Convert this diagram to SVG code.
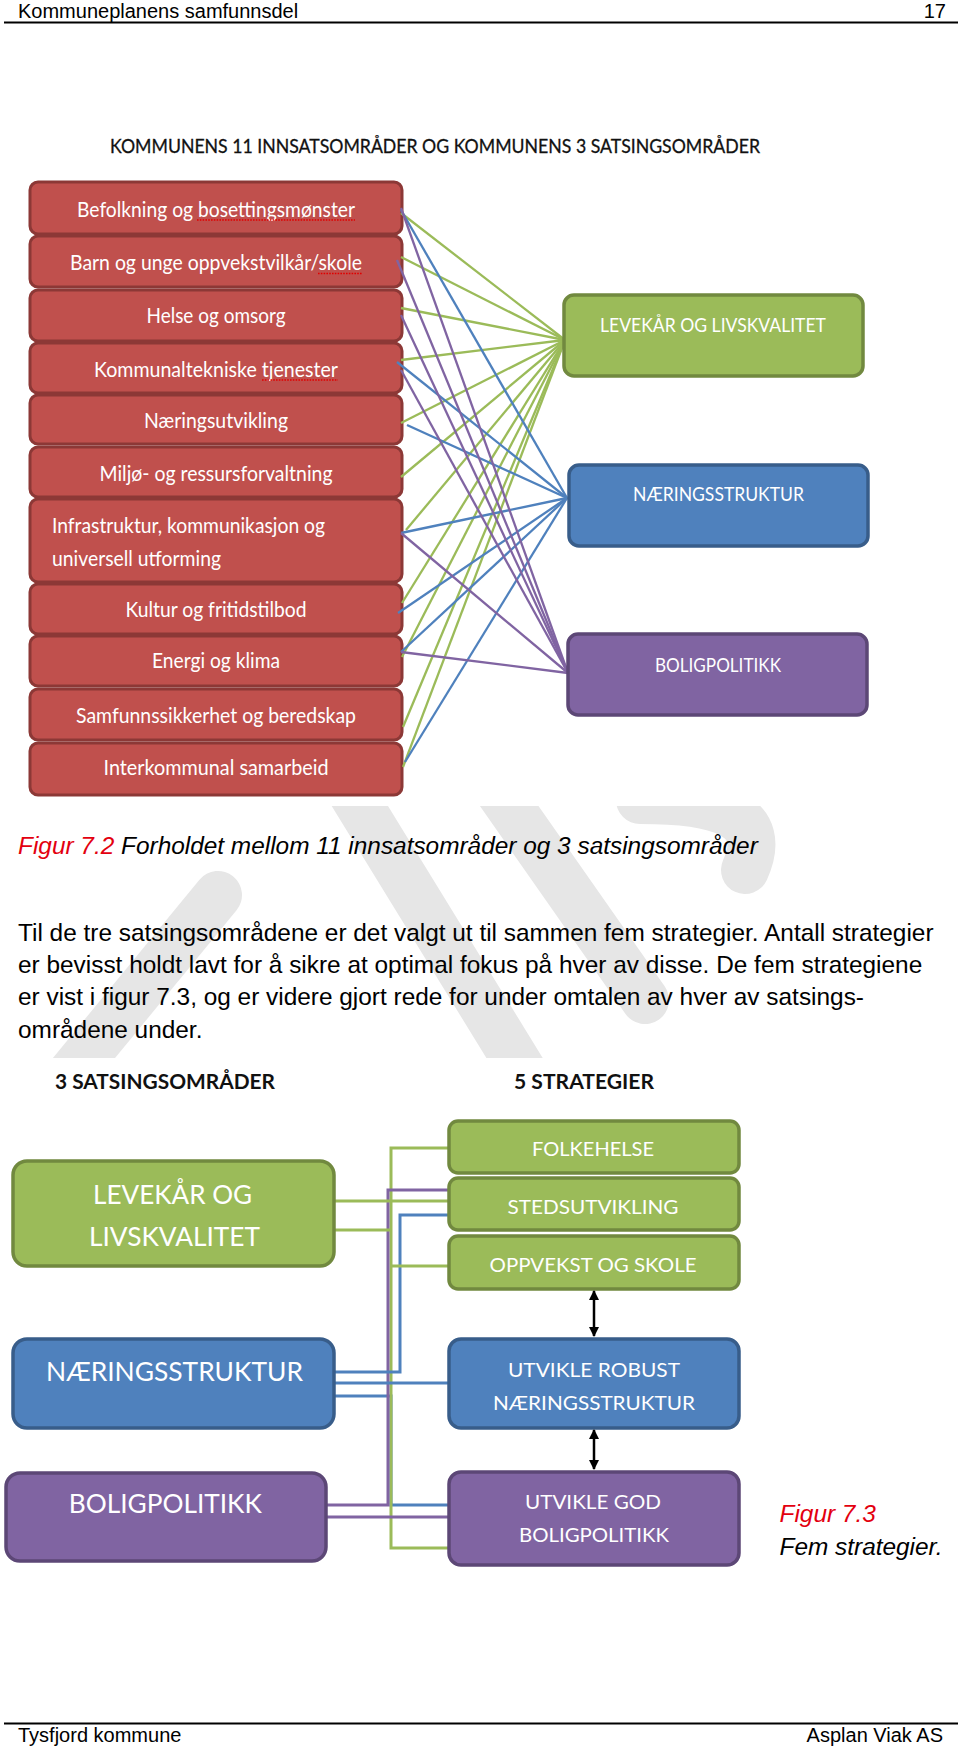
<svg xmlns="http://www.w3.org/2000/svg" width="960" height="1748" viewBox="0 0 960 1748">
<defs>
<style>
.hdr{font-family:"Liberation Sans",Arial,sans-serif;font-size:20px;fill:#000}
.body{font-family:"Liberation Sans",Arial,sans-serif;font-size:24.4px;fill:#000}
.cap{font-family:"Liberation Sans",Arial,sans-serif;font-size:24.4px;font-style:italic;fill:#000}
.capr{fill:#E3000F}
.cal{font-family:Lato,"Open Sans",sans-serif;fill:#fff}
.t21{font-size:21px}
.t20{font-size:20px}
.t26{font-size:26.5px}
.ttl{font-family:Lato,"Open Sans",sans-serif;fill:#111}
.rb{fill:#C0504D;stroke:#8C3836;stroke-width:3}
.gb{fill:#9BBB59;stroke:#71893F;stroke-width:3.5}
.bb{fill:#4F81BD;stroke:#385D8A;stroke-width:3.5}
.pb{fill:#8064A2;stroke:#5C4776;stroke-width:3.5}
.lg{stroke:#9BBB59;fill:none}
.lb{stroke:#4F81BD;fill:none}
.lp{stroke:#8064A2;fill:none}
.f1 line{stroke-width:2.3}
.f2 path{stroke-width:3;fill:none}
.sq{stroke:#E00000;stroke-width:1.3;stroke-dasharray:1.6 1.2;fill:none}
.wm{stroke:#E6E6E6;stroke-width:48;fill:none;stroke-linecap:round}
.rule{stroke:#000;stroke-width:1.8}
</style>
<clipPath id="wmclip"><rect x="0" y="806" width="960" height="252"/></clipPath>
<marker id="ah" viewBox="0 0 10 10" refX="9" refY="5" markerWidth="4" markerHeight="4.5" orient="auto-start-reverse" markerUnits="strokeWidth">
<path d="M0,0 L10,5 L0,10 z" fill="#000"/>
</marker>
</defs>

<rect x="0" y="0" width="960" height="1748" fill="#fff"/>

<!-- watermark -->
<g id="watermark" clip-path="url(#wmclip)">
<path class="wm" d="M70,1075 L218,895"/>
<path class="wm" d="M350,790 L525,1075"/>
<path class="wm" d="M498,790 L645,1000"/>
<path class="wm" d="M640,800 C720,800 770,815 745,870"/>
</g>

<!-- page header / footer -->
<g id="page-header">
<text class="hdr" x="18" y="18">Kommuneplanens samfunnsdel</text>
<text class="hdr" x="946" y="18" text-anchor="end">17</text>
<line class="rule" x1="4" y1="22.5" x2="958" y2="22.5"/>
</g>
<g id="page-footer">
<line class="rule" x1="4" y1="1723.5" x2="958" y2="1723.5"/>
<text class="hdr" x="18" y="1742">Tysfjord kommune</text>
<text class="hdr" x="943" y="1742" text-anchor="end">Asplan Viak AS</text>
</g>

<!-- Figure 7.2 -->
<text id="fig1-title" class="ttl" x="110" y="153" font-size="19.5" stroke="#111" stroke-width="0.3" textLength="650" lengthAdjust="spacingAndGlyphs">KOMMUNENS 11 INNSATSOMRÅDER OG KOMMUNENS 3 SATSINGSOMRÅDER</text>

<g id="in1"><rect class="rb" x="30" y="182" width="372" height="52" rx="8"/><text class="cal t21" x="216" y="216.5" text-anchor="middle" textLength="278" lengthAdjust="spacingAndGlyphs">Befolkning og bosettingsmønster</text><path class="sq" d="M197,220 H355"/></g>
<g id="in2"><rect class="rb" x="30" y="236" width="372" height="51" rx="8"/><text class="cal t21" x="216" y="270" text-anchor="middle" textLength="292" lengthAdjust="spacingAndGlyphs">Barn og unge oppvekstvilkår/skole</text><path class="sq" d="M318,273.5 H362"/></g>
<g id="in3"><rect class="rb" x="30" y="290" width="372" height="51" rx="8"/><text class="cal t21" x="216" y="323.3" text-anchor="middle" textLength="139" lengthAdjust="spacingAndGlyphs">Helse og omsorg</text></g>
<g id="in4"><rect class="rb" x="30" y="343" width="372" height="50" rx="8"/><text class="cal t21" x="216" y="376.7" text-anchor="middle" textLength="244" lengthAdjust="spacingAndGlyphs">Kommunaltekniske tjenester</text><path class="sq" d="M262,380 H338"/></g>
<g id="in5"><rect class="rb" x="30" y="395" width="372" height="49" rx="8"/><text class="cal t21" x="216" y="428" text-anchor="middle" textLength="144" lengthAdjust="spacingAndGlyphs">Næringsutvikling</text></g>
<g id="in6"><rect class="rb" x="30" y="447" width="372" height="50" rx="8"/><text class="cal t21" x="216" y="481" text-anchor="middle" textLength="233" lengthAdjust="spacingAndGlyphs">Miljø- og ressursforvaltning</text></g>
<g id="in7"><rect class="rb" x="30" y="499" width="372" height="83" rx="8"/><text class="cal t21" x="52" y="533.3" textLength="273" lengthAdjust="spacingAndGlyphs">Infrastruktur, kommunikasjon og</text><text class="cal t21" x="52" y="565.7" textLength="169" lengthAdjust="spacingAndGlyphs">universell utforming</text></g>
<g id="in8"><rect class="rb" x="30" y="584" width="372" height="50" rx="8"/><text class="cal t21" x="216" y="616.7" text-anchor="middle" textLength="181" lengthAdjust="spacingAndGlyphs">Kultur og fritidstilbod</text></g>
<g id="in9"><rect class="rb" x="30" y="636" width="372" height="50" rx="8"/><text class="cal t21" x="216" y="668.3" text-anchor="middle" textLength="128" lengthAdjust="spacingAndGlyphs">Energi og klima</text></g>
<g id="in10"><rect class="rb" x="30" y="689" width="372" height="51" rx="8"/><text class="cal t21" x="216" y="723.3" text-anchor="middle" textLength="280" lengthAdjust="spacingAndGlyphs">Samfunnssikkerhet og beredskap</text></g>
<g id="in11"><rect class="rb" x="30" y="743" width="372" height="52" rx="8"/><text class="cal t21" x="216" y="775" text-anchor="middle" textLength="225" lengthAdjust="spacingAndGlyphs">Interkommunal samarbeid</text></g>

<g id="fig1-connectors" class="f1">
<line class="lg" x1="401" y1="213" x2="565" y2="340"/>
<line class="lg" x1="401" y1="257" x2="565" y2="340"/>
<line class="lg" x1="401" y1="308" x2="565" y2="340"/>
<line class="lg" x1="401" y1="360" x2="565" y2="340"/>
<line class="lg" x1="401" y1="423" x2="565" y2="340"/>
<line class="lg" x1="401" y1="477" x2="565" y2="340"/>
<line class="lg" x1="406" y1="530" x2="565" y2="340"/>
<line class="lg" x1="402" y1="603" x2="565" y2="340"/>
<line class="lg" x1="402" y1="657" x2="565" y2="340"/>
<line class="lg" x1="403" y1="727" x2="565" y2="340"/>
<line class="lg" x1="403" y1="767" x2="565" y2="340"/>
<line class="lb" x1="401" y1="210" x2="567" y2="498"/>
<line class="lb" x1="397" y1="362" x2="567" y2="498"/>
<line class="lb" x1="407" y1="425" x2="567" y2="498"/>
<line class="lb" x1="401" y1="533" x2="567" y2="498"/>
<line class="lb" x1="398" y1="613" x2="567" y2="498"/>
<line class="lb" x1="401" y1="652" x2="567" y2="498"/>
<line class="lb" x1="405" y1="762" x2="567" y2="498"/>
<line class="lp" x1="401" y1="208" x2="568" y2="673"/>
<line class="lp" x1="397" y1="260" x2="568" y2="673"/>
<line class="lp" x1="401" y1="315" x2="568" y2="673"/>
<line class="lp" x1="401" y1="370" x2="568" y2="673"/>
<line class="lp" x1="401" y1="533" x2="568" y2="673"/>
<line class="lp" x1="401" y1="652" x2="568" y2="673"/>
</g>

<g id="sat-levekar"><rect class="gb" x="564" y="295" width="299" height="81" rx="10"/><text class="cal t20" x="713" y="331.8" text-anchor="middle" textLength="226" lengthAdjust="spacingAndGlyphs">LEVEKÅR OG LIVSKVALITET</text></g>
<g id="sat-naering"><rect class="bb" x="569" y="465" width="299" height="81" rx="10"/><text class="cal t20" x="718.5" y="501.4" text-anchor="middle" textLength="171" lengthAdjust="spacingAndGlyphs">NÆRINGSSTRUKTUR</text></g>
<g id="sat-bolig"><rect class="pb" x="568" y="634" width="299" height="81" rx="10"/><text class="cal t20" x="718" y="672" text-anchor="middle" textLength="126" lengthAdjust="spacingAndGlyphs">BOLIGPOLITIKK</text></g>

<text id="caption-72" class="cap" x="18" y="853.5"><tspan class="capr">Figur 7.2</tspan> Forholdet mellom 11 innsatsområder og 3 satsingsområder</text>

<g id="body-text">
<text class="body" x="18" y="940.5">Til de tre satsingsområdene er det valgt ut til sammen fem strategier. Antall strategier</text>
<text class="body" x="18" y="973">er bevisst holdt lavt for å sikre at optimal fokus på hver av disse. De fem strategiene</text>
<text class="body" x="18" y="1005">er vist i figur 7.3, og er videre gjort rede for under omtalen av hver av satsings-</text>
<text class="body" x="18" y="1037.5">områdene under.</text>
</g>

<!-- Figure 7.3 -->
<text id="hdr-sat" class="ttl" x="55" y="1089" font-size="20" font-weight="700" textLength="220" lengthAdjust="spacingAndGlyphs">3 SATSINGSOMRÅDER</text>
<text id="hdr-str" class="ttl" x="514" y="1089" font-size="20" font-weight="700" textLength="140" lengthAdjust="spacingAndGlyphs">5 STRATEGIER</text>

<g id="fig2-connectors" class="f2">
<path class="lb" d="M335,1396 H391 V1505 H449"/>
<path class="lg" d="M450,1148 H391 V1548 H449"/>
<path class="lp" d="M449,1190 H388 V1505 H327"/>
<path class="lg" d="M334,1201 H449"/>
<path class="lb" d="M449,1215 H400 V1372 H335"/>
<path class="lg" d="M334,1230 H391"/>
<path class="lg" d="M449,1266 H391"/>
<path class="lb" d="M335,1383 H449"/>
<path class="lp" d="M327,1517 H449"/>
</g>

<g id="s-levekar"><rect class="gb" x="13" y="1161" width="321" height="105" rx="14"/><text class="cal t26" x="172.6" y="1204" text-anchor="middle" textLength="159" lengthAdjust="spacingAndGlyphs">LEVEKÅR OG</text><text class="cal t26" x="174.5" y="1246" text-anchor="middle" textLength="171" lengthAdjust="spacingAndGlyphs">LIVSKVALITET</text></g>
<g id="s-naering"><rect class="bb" x="13" y="1339" width="321" height="89" rx="14"/><text class="cal t26" x="174.5" y="1381" text-anchor="middle" textLength="257" lengthAdjust="spacingAndGlyphs">NÆRINGSSTRUKTUR</text></g>
<g id="s-bolig"><rect class="pb" x="6" y="1473" width="320" height="88" rx="14"/><text class="cal t26" x="165.3" y="1513" text-anchor="middle" textLength="193" lengthAdjust="spacingAndGlyphs">BOLIGPOLITIKK</text></g>

<g id="st-folkehelse"><rect class="gb" x="449" y="1121" width="290" height="52" rx="9"/><text class="cal t20" x="593" y="1156" text-anchor="middle" textLength="122" lengthAdjust="spacingAndGlyphs">FOLKEHELSE</text></g>
<g id="st-sted"><rect class="gb" x="449" y="1178" width="290" height="52" rx="9"/><text class="cal t20" x="593" y="1214" text-anchor="middle" textLength="171" lengthAdjust="spacingAndGlyphs">STEDSUTVIKLING</text></g>
<g id="st-oppvekst"><rect class="gb" x="449" y="1236" width="290" height="53" rx="9"/><text class="cal t20" x="593" y="1272" text-anchor="middle" textLength="207" lengthAdjust="spacingAndGlyphs">OPPVEKST OG SKOLE</text></g>
<g id="st-naering"><rect class="bb" x="449" y="1339" width="290" height="89" rx="12"/><text class="cal t20" x="594" y="1377" text-anchor="middle" textLength="172" lengthAdjust="spacingAndGlyphs">UTVIKLE ROBUST</text><text class="cal t20" x="594" y="1410" text-anchor="middle" textLength="202" lengthAdjust="spacingAndGlyphs">NÆRINGSSTRUKTUR</text></g>
<g id="st-bolig"><rect class="pb" x="449" y="1472" width="290" height="93" rx="12"/><text class="cal t20" x="593" y="1509" text-anchor="middle" textLength="136" lengthAdjust="spacingAndGlyphs">UTVIKLE GOD</text><text class="cal t20" x="594" y="1542" text-anchor="middle" textLength="150" lengthAdjust="spacingAndGlyphs">BOLIGPOLITIKK</text></g>

<g id="fig2-arrows" stroke="#000" stroke-width="2.5">
<line x1="594" y1="1291" x2="594" y2="1336" marker-start="url(#ah)" marker-end="url(#ah)"/>
<line x1="594" y1="1430" x2="594" y2="1469" marker-start="url(#ah)" marker-end="url(#ah)"/>
</g>

<g id="caption-73">
<text class="cap capr" x="779.5" y="1521.5">Figur 7.3</text>
<text class="cap" x="779.5" y="1555">Fem strategier.</text>
</g>
</svg>
